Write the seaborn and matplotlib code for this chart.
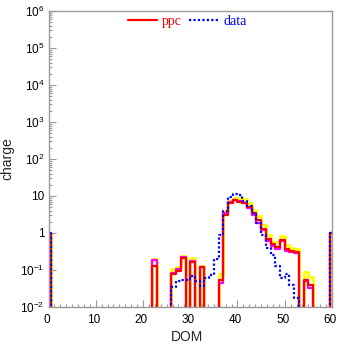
import numpy as np
import pandas as pd
import matplotlib
matplotlib.use("Agg")
import matplotlib.pyplot as plt
import matplotlib.ticker as mticker
import matplotlib.transforms as mtransforms
import seaborn as sns

# ---------------- data ----------------
dom_first = 22          # first DOM of the value lists below
ppc = [0.128, 0, 0, 0, 0.078, 0.095, 0.207, 0, 0.168, 0, 0.117, 0, 0, 0, 0.054,
       3.06, 6.4, 7.7, 6.9, 6.6, 4.9, 3.4, 2.2, 1.3, 0.68, 0.5, 0.43, 0.66, 0.37,
       0.33, 0.3, 0, 0.055, 0.04]
ppc_var1 = [0.186, 0, 0, 0, 0.085, 0.105, 0.22, 0, 0.18, 0, 0.12, 0, 0, 0, 0.044,
            3.5, 6.8, 8.0, 7.2, 6.3, 4.6, 3.0, 1.9, 1.2, 0.6, 0.45, 0.38, 0.6, 0.33,
            0.3, 0.28, 0, 0.05, 0.033]
ppc_var2 = [0.2, 0, 0, 0, 0.105, 0.118, 0.24, 0, 0.207, 0, 0.13, 0, 0, 0, 0.08,
            3.95, 7.5, 8.9, 8.9, 8.4, 6.3, 4.2, 2.9, 1.64, 0.88, 0.58, 0.56, 0.83,
            0.47, 0.4, 0.36, 0, 0.086, 0.065]
data = [0, 0, 0, 0, 0.035, 0.05, 0.055, 0.055, 0.07, 0.05, 0.038, 0.06, 0.072, 0.2,
        0.9, 4.0, 9.2, 11.5, 10.5, 7.5, 5.5, 3.4, 1.9, 0.88, 0.4, 0.26, 0.13, 0.06,
        0.077, 0.04, 0.018, 0, 0, 0]
edge_value = 1.0        # value of the first (DOM 0) and last (DOM 60) bins
n_dom = 61
x_ticks = [0, 10, 20, 30, 40, 50, 60]
y_ticks = [1e-2, 1e-1, 1, 10, 1e2, 1e3, 1e4, 1e5, 1e6]
y_ticklabels = [r"$10^{-2}$", r"$10^{-1}$", "1", "10", r"$10^{2}$", r"$10^{3}$",
                r"$10^{4}$", r"$10^{5}$", r"$10^{6}$"]

# bin edges: DOM 0 and 60 bins are centred, inner bins start at the DOM number
edges = np.r_[-0.5, 0.5, np.arange(2, 60), 59.5, 60.5]
FLOOR = 1e-4


def full(vals):
    arr = np.full(n_dom, FLOOR)
    for i, v in enumerate(vals):
        arr[dom_first + i] = v if v > 0 else FLOOR
    arr[0] = edge_value
    arr[-1] = edge_value
    return arr


def step_frame(vals, name):
    arr = full(vals)
    y = np.r_[arr, arr[-1]]
    return pd.DataFrame({"DOM": edges, "charge": y, "series": name})


# ---------------- figure ----------------
sns.set_style("white")
plt.rcParams["font.family"] = ["Liberation Sans", "DejaVu Sans"]
plt.rcParams["mathtext.fontset"] = "custom"
plt.rcParams["mathtext.rm"] = "Liberation Sans"
plt.rcParams["mathtext.it"] = "Liberation Sans"

fig = plt.figure(figsize=(3.37, 3.44), dpi=100)
ax = fig.add_axes([0.144, 0.1076, 0.841, 0.8605])

styles = [
    (ppc_var2, "ppc2", "#ffff00", "-", 2.0, None),
    (ppc_var1, "ppc1", "#ff00ff", "-", 1.6, None),
    (ppc, "ppc", "#ff0000", "-", 1.6, "ppc"),
    (data, "data", "#0000ff", (0, (1, 1)), 1.6, "data"),
]
for vals, name, col, ls, lw, lab in styles:
    df = step_frame(vals, name)
    sns.lineplot(data=df, x="DOM", y="charge", ax=ax, color=col, linestyle=ls,
                 linewidth=lw, drawstyle="steps-post", estimator=None,
                 sort=False, label=lab if lab else "_nolegend_", legend=False)

ax.set_yscale("log")
ax.set_xlim(0, 60)
ax.set_ylim(1e-2, 1e6)
ax.set_xticks(x_ticks)
ax.set_xticklabels([str(t) for t in x_ticks])
ax.xaxis.set_minor_locator(mticker.AutoMinorLocator(8))
ax.set_yticks(y_ticks)
ax.set_yticklabels(y_ticklabels)
ax.yaxis.set_minor_locator(mticker.LogLocator(base=10, subs=np.arange(2, 10), numticks=20))
ax.yaxis.set_minor_formatter(mticker.NullFormatter())

spine_col = "#999999"
for s in ax.spines.values():
    s.set_color(spine_col)
    s.set_linewidth(1.0)
ax.tick_params(which="both", direction="in", color=spine_col, labelsize=8.5,
               labelcolor="black", bottom=True, left=True, top=False, right=False)
ax.tick_params(which="major", length=5, width=0.8)
ax.tick_params(which="minor", length=2.5, width=0.8)
ax.tick_params(axis="x", pad=5)
ax.tick_params(axis="y", pad=3)

# shift x tick labels slightly left, as in the reference
offset = mtransforms.ScaledTranslation(-2 / 100, 0, fig.dpi_scale_trans)
for lbl in ax.get_xticklabels():
    lbl.set_transform(lbl.get_transform() + offset)

ax.set_xlabel("DOM", fontsize=10)
ax.set_ylabel("charge", fontsize=10)
ax.xaxis.set_label_coords(0.49, -0.078)
ax.yaxis.set_label_coords(-0.12, 0.5)

leg = ax.legend(loc="center", bbox_to_anchor=(0.49, 0.966), ncol=2, frameon=False,
                prop={"family": "Liberation Serif", "size": 10}, handlelength=2.1,
                handletextpad=0.4, columnspacing=0.5, borderaxespad=0)
for txt, col in zip(leg.get_texts(), ["#ff0000", "#0000ff"]):
    txt.set_color(col)

fig.savefig("out.png", dpi=100)
